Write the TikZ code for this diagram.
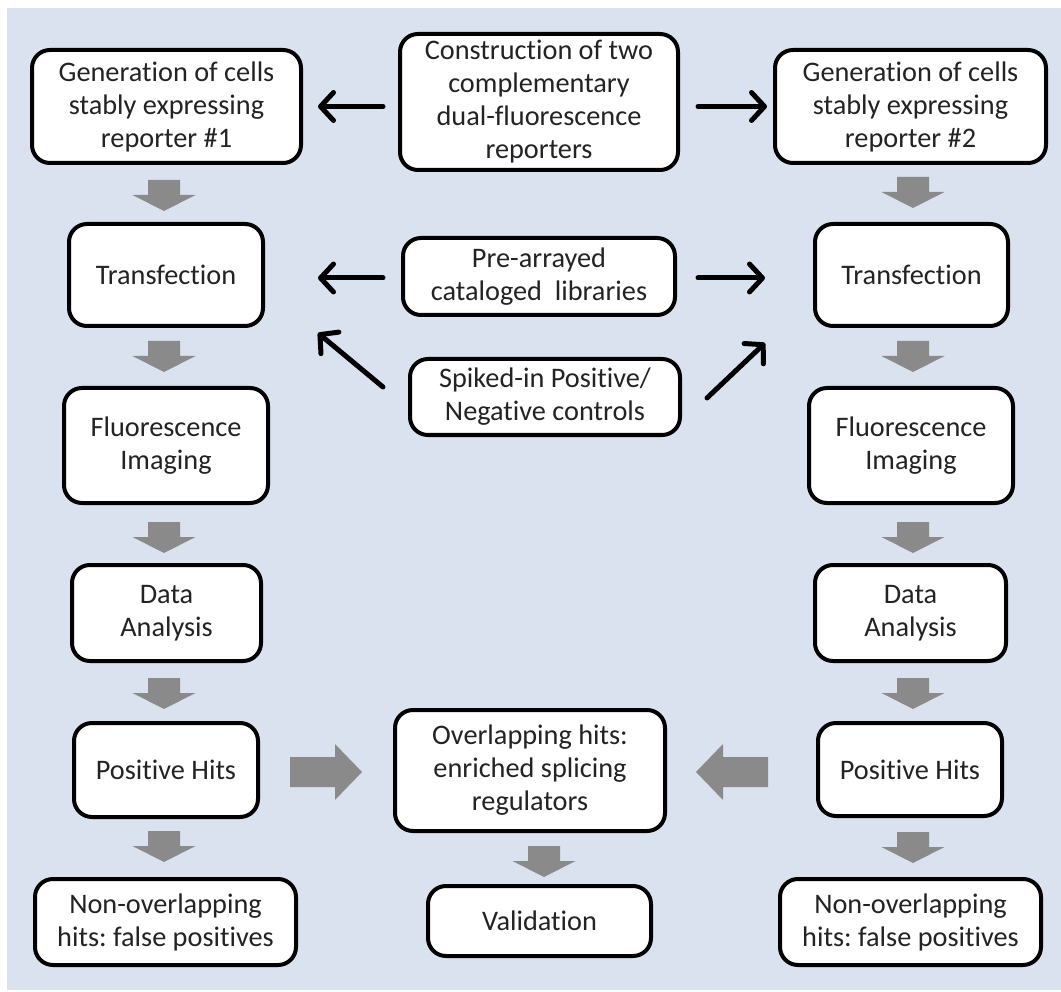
\documentclass[tikz,border=0pt]{standalone}
\usepackage{fontspec}
\setmainfont[Ligatures=NoCommon]{Carlito}
\usetikzlibrary{arrows.meta}
\definecolor{bgblue}{RGB}{217,226,238}
\definecolor{arrgray}{RGB}{138,138,138}
\definecolor{txt}{RGB}{35,35,35}
\frenchspacing
\begin{document}
\begin{tikzpicture}[x=1pt,y=-1pt,
  box/.style={draw=black, fill=white, line width=4pt, rounded corners=18pt,
    inner sep=0pt, align=center, text=txt,
    font=\fontsize{28.3}{33}\selectfont},
  blk/.style={draw=black, line width=5pt, line cap=round,
    -{Straight Barb[length=13pt,width=28pt,line width=5pt,round]}},
  downarr/.pic={\fill[arrgray] (-16,0) -- (16,0) -- (16,15) -- (31.5,15) -- (0,31) -- (-31.5,15) -- (-16,15) -- cycle;},
  rightarr/.pic={\fill[arrgray] (0,-15) -- (45,-15) -- (45,-28) -- (72,0) -- (45,28) -- (45,15) -- (0,15) -- cycle;},
  leftarr/.pic={\fill[arrgray] (0,-15) -- (-45,-15) -- (-45,-28) -- (-72,0) -- (-45,28) -- (-45,15) -- (0,15) -- cycle;}
]
\useasboundingbox (0,0) rectangle (1061,992);
\fill[bgblue] (7,8) rectangle (1061,990);

% boxes
\node[box, minimum width=278pt, minimum height=136pt] (top) at (539,102) {Construction of two\\complementary\\dual-fluorescence\\reporters};
\node[box, minimum width=269pt, minimum height=113pt] (L1) at (166.5,106.5) {Generation of cells\\stably expressing\\reporter \#1};
\node[box, minimum width=271pt, minimum height=113pt] (R1) at (910.5,106.5) {Generation of cells\\stably expressing\\reporter \#2};
\node[box, minimum width=194pt, minimum height=102pt] (TL) at (166,275) {Transfection};
\node[box, minimum width=193pt, minimum height=102pt] (TR) at (911.5,275) {Transfection};
\node[box, minimum width=272pt, minimum height=77pt] (Pre) at (539,276.5) {Pre-arrayed\\cataloged\ \ libraries};
\node[box, minimum width=270pt, minimum height=76pt] (Spk) at (545,397) {Spiked-in Positive/\\Negative controls};
\node[box, minimum width=204pt, minimum height=115pt] (FL) at (166,445.5) {Fluorescence\\Imaging};
\node[box, minimum width=204pt, minimum height=115pt] (FR) at (911,445.5) {Fluorescence\\Imaging};
\node[box, minimum width=189pt, minimum height=96pt] (DL) at (166.5,613) {Data\\Analysis};
\node[box, minimum width=191pt, minimum height=96pt] (DR) at (910.5,613) {Data\\Analysis};
\node[box, minimum width=184pt, minimum height=94pt] (PL) at (166,770) {Positive Hits};
\node[box, minimum width=184pt, minimum height=93pt] (PR) at (910,769.5) {Positive Hits};
\node[box, minimum width=270pt, minimum height=121pt] (OV) at (530,770.5) {Overlapping hits:\\enriched splicing\\regulators};
\node[box, minimum width=261pt, minimum height=86pt] (NL) at (165.5,922) {Non-overlapping\\hits: false positives};
\node[box, minimum width=223pt, minimum height=70pt] (VA) at (539.5,921) {Validation};
\node[box, minimum width=261pt, minimum height=86pt] (NR) at (910.5,922) {Non-overlapping\\hits: false positives};

% black arrows
\draw[blk, shorten <=15pt, shorten >=15pt] (top.west |- L1.east) -- (L1.east);
\draw[blk, shorten <=18pt, shorten >=6pt] (top.east |- R1.west) -- (R1.west);
\coordinate (pl) at (Pre.west |- 0,278);
\coordinate (pr) at (Pre.east |- 0,278);
\draw[blk, shorten <=18pt, shorten >=53pt] (pl) -- (TL.east |- pl);
\draw[blk, shorten <=21pt, shorten >=48pt] (pr) -- (TR.west |- pr);
\coordinate (sl1) at (383,387);
\coordinate (sl2) at (318,333);
\coordinate (sr1) at (707,398);
\coordinate (sr2) at (765,343);
\draw[blk] (sl1) -- (sl2);
\draw[blk] (sr1) -- (sr2);

% grey block arrows (left column)
\pic at (164,180) {downarr};
\pic at (164,341) {downarr};
\pic at (164,522) {downarr};
\pic at (164,678) {downarr};
\pic at (164,831) {downarr};
% right column
\pic at (913,177) {downarr};
\pic at (913,341) {downarr};
\pic at (913,522) {downarr};
\pic at (913,678) {downarr};
\pic at (913,832) {downarr};
% centre
\pic at (544,846) {downarr};
% horizontal
\pic at (290,772) {rightarr};
\pic at (768,772) {leftarr};
\end{tikzpicture}
\end{document}
